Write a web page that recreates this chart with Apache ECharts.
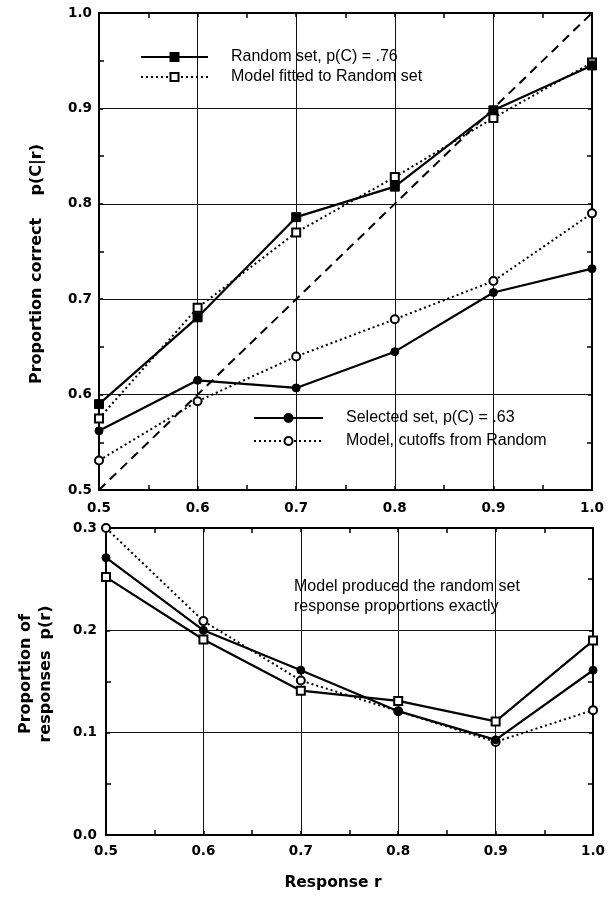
<!DOCTYPE html>
<html><head><meta charset="utf-8">
<script src="https://cdn.jsdelivr.net/npm/echarts@6/dist/echarts.min.js"></script>
<style>html,body{margin:0;padding:0;background:#fff}#c{width:608px;height:901px}</style>
</head><body><div id="c"></div>
<script>
// ---- data ----
const responseR    = [0.5, 0.6, 0.7, 0.8, 0.9, 1.0];
const randomSet    = [0.590, 0.681, 0.786, 0.818, 0.898, 0.945];
const modelRandom  = [0.575, 0.691, 0.770, 0.828, 0.890, 0.948];
const selectedSet  = [0.562, 0.615, 0.607, 0.645, 0.707, 0.732];
const modelCutoffs = [0.531, 0.593, 0.640, 0.679, 0.719, 0.790];
const diagonalR    = [0.5, 1.0];
const diagonalP    = [0.5, 1.0];
const propRandom   = [0.252, 0.191, 0.141, 0.131, 0.111, 0.190];
const propSelected = [0.271, 0.200, 0.161, 0.121, 0.093, 0.161];
const propModel    = [0.300, 0.209, 0.151, 0.121, 0.091, 0.122];

const pairs = (xs, ys) => xs.map((x, i) => [x, ys[i]]);
const BLACK = '#000';
const tickFont = {fontFamily: 'DejaVu Sans', fontWeight: 'bold', fontSize: 13.5, color: BLACK};

function xAx(grid, pos, labels, margin) {
  return {
    type: 'value', gridIndex: grid, position: pos, min: 0.5, max: 1.0, interval: 0.1,
    axisLine: {show: true, onZero: false, lineStyle: {color: BLACK, width: 2}},
    axisTick: {show: true, inside: true, length: 4, lineStyle: {color: BLACK, width: 1.5}},
    minorTick: {show: true, splitNumber: 2, length: 5, lineStyle: {color: BLACK, width: 1.5}},
    splitLine: {show: labels, lineStyle: {color: '#111', width: 1}},
    minorSplitLine: {show: false},
    axisLabel: labels ? Object.assign({show: true, margin: margin, formatter: v => v.toFixed(1)}, tickFont) : {show: false}
  };
}
function yAx(grid, pos, labels, min, max, margin) {
  return {
    type: 'value', gridIndex: grid, position: pos, min: min, max: max, interval: 0.1,
    axisLine: {show: true, onZero: false, lineStyle: {color: BLACK, width: 2}},
    axisTick: {show: true, inside: true, length: 4, lineStyle: {color: BLACK, width: 1.5}},
    minorTick: {show: true, splitNumber: 2, length: 5, lineStyle: {color: BLACK, width: 1.5}},
    splitLine: {show: labels, lineStyle: {color: '#111', width: 1}},
    axisLabel: labels ? Object.assign({show: true, margin: margin, formatter: v => v.toFixed(1)}, tickFont) : {show: false}
  };
}

function line(name, xi, yi, data, opts) {
  return Object.assign({
    name: name, type: 'line', xAxisIndex: xi, yAxisIndex: yi, data: data,
    showSymbol: true, symbolSize: 8, clip: false,
    lineStyle: {color: BLACK, width: 2.2, type: 'solid'},
    itemStyle: {color: BLACK, borderColor: BLACK, borderWidth: 1.5},
    emphasis: {disabled: true}, z: 3
  }, opts);
}
const openSq = {symbol: 'rect', symbolSize: 8, itemStyle: {color: '#fff', borderColor: BLACK, borderWidth: 2}};
const filledSq = {symbol: 'rect', symbolSize: 9, itemStyle: {color: BLACK, borderColor: BLACK, borderWidth: 1}};
const openCi = {symbol: 'circle', symbolSize: 8, itemStyle: {color: '#fff', borderColor: BLACK, borderWidth: 2}};
const filledCi = {symbol: 'circle', symbolSize: 8, itemStyle: {color: BLACK, borderColor: BLACK, borderWidth: 1}};
const dotted = {lineStyle: {color: BLACK, width: 2, type: [2, 3]}};

const legendText = {fontFamily: 'Liberation Sans', fontSize: 16, color: BLACK, padding: [0, 0, 0, 18]};

const option = {
  backgroundColor: '#fff',
  animation: false,
  grid: [
    {left: 99, top: 13, width: 493, height: 477},
    {left: 106, top: 528, width: 491, height: 307}
  ],
  xAxis: [
    xAx(0, 'bottom', true, 11), xAx(0, 'top', false),
    xAx(1, 'bottom', true, 9), xAx(1, 'top', false)
  ],
  yAxis: [
    yAx(0, 'left', true, 0.5, 1.0, 7), yAx(0, 'right', false, 0.5, 1.0),
    yAx(1, 'left', true, 0, 0.3, 9), yAx(1, 'right', false, 0, 0.3)
  ],
  legend: [
    {data: ['Random set, p(C) = .76', 'Model fitted to Random set'], orient: 'vertical',
     left: 135, top: 44, itemWidth: 67, itemHeight: 10, itemGap: 4, selectedMode: false,
     textStyle: legendText},
    {data: ['Selected set, p(C) = .63', 'Model, cutoffs from Random'], orient: 'vertical',
     left: 248, top: 405, itemWidth: 69, itemHeight: 10, itemGap: 7, selectedMode: false,
     textStyle: legendText}
  ],
  series: [
    line('Identity', 0, 0, pairs(diagonalR, diagonalP), {showSymbol: false, symbol: 'none',
      lineStyle: {color: BLACK, width: 2, type: [9, 6]}, z: 2}),
    line('Model fitted to Random set', 0, 0, pairs(responseR, modelRandom), Object.assign({}, openSq, dotted)),
    line('Random set, p(C) = .76', 0, 0, pairs(responseR, randomSet), filledSq),
    line('Model, cutoffs from Random', 0, 0, pairs(responseR, modelCutoffs), Object.assign({}, openCi, dotted)),
    line('Selected set, p(C) = .63', 0, 0, pairs(responseR, selectedSet), filledCi),
    line('Model p(r)', 2, 2, pairs(responseR, propModel), Object.assign({}, openCi, dotted)),
    line('Selected p(r)', 2, 2, pairs(responseR, propSelected), filledCi),
    line('Random p(r)', 2, 2, pairs(responseR, propRandom), openSq)
  ],
  graphic: [
    {type: 'text', x: 37, y: 264, rotation: Math.PI / 2,
     style: {text: 'Proportion correct    p(C|r)', font: 'bold 16px "DejaVu Sans"', fill: BLACK, align: 'center', verticalAlign: 'middle'}},
    {type: 'text', x: 36, y: 674, rotation: Math.PI / 2,
     style: {text: 'Proportion of\nresponses  p(r)', font: 'bold 16px "DejaVu Sans"', lineHeight: 20, fill: BLACK, align: 'center', verticalAlign: 'middle'}},
    {type: 'text', x: 333, y: 883,
     style: {text: 'Response r', font: 'bold 15.5px "DejaVu Sans"', fill: BLACK, align: 'center', verticalAlign: 'middle'}},
    {type: 'text', x: 294, y: 597,
     style: {text: 'Model produced the random set\nresponse proportions exactly', font: '16px "Liberation Sans"', lineHeight: 20, fill: BLACK, align: 'left', verticalAlign: 'middle'}}
  ]
};
const chart = echarts.init(document.getElementById('c'), null, {renderer: 'canvas'});
chart.setOption(option);
</script></body></html>
